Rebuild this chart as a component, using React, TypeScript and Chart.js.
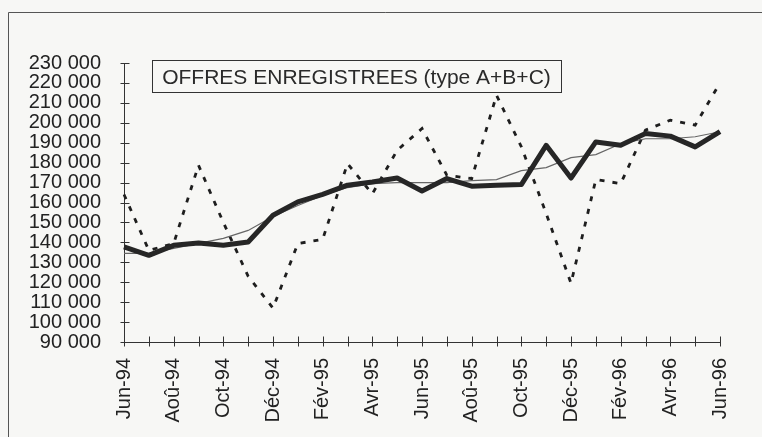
import React, { useEffect, useRef } from "react";
import { Chart, registerables } from "chart.js";

Chart.register(...registerables);

const months = [
  "Jun-94", "Jul-94", "Aoû-94", "Sep-94", "Oct-94", "Nov-94", "Déc-94",
  "Jan-95", "Fév-95", "Mar-95", "Avr-95", "Mai-95", "Jun-95", "Jul-95",
  "Aoû-95", "Sep-95", "Oct-95", "Nov-95", "Déc-95", "Jan-96", "Fév-96",
  "Mar-96", "Avr-96", "Mai-96", "Jun-96",
];

const thickSeries = [
  137700, 133500, 138500, 139700, 138500, 140200, 153600, 160300, 164100,
  168700, 170300, 172300, 165800, 172000, 168200, 168700, 169000, 188700,
  172300, 190400, 188700, 194600, 193300, 187900, 195600,
];

const dashedSeries = [
  164000, 136000, 139400, 178700, 150000, 123000, 107000, 139400, 141500,
  179500, 164300, 186200, 197100, 173700, 172000, 213800, 188000, 154500,
  119500, 171500, 169500, 196300, 201300, 198800, 220000,
];

const trendSeries = [
  134500, 134500, 137000, 139500, 142000, 146000, 153000, 158500, 163500,
  167500, 169500, 170000, 170000, 170000, 171000, 171500, 176000, 177500,
  182500, 184000, 189500, 192000, 192000, 193000, 195500,
];

const titleText = "OFFRES ENREGISTREES (type A+B+C)";
const yMin = 90000;
const yMax = 230000;
const yStep = 10000;

const FONT = "'Liberation Sans', Arial, Helvetica, sans-serif";
const BG = "#f7f7f5";

const decoPlugin = {
  id: "deco",
  beforeDraw(chart: any) {
    const { ctx, width, height } = chart;
    ctx.save();
    ctx.fillStyle = BG;
    ctx.fillRect(0, 0, width, height);
    ctx.strokeStyle = "#555";
    ctx.lineWidth = 1;
    ctx.beginPath();
    ctx.moveTo(0.5, height);
    ctx.lineTo(0.5, 0.5);
    ctx.lineTo(width, 0.5);
    ctx.stroke();
    ctx.restore();
  },
  afterDraw(chart: any) {
    const { ctx, chartArea } = chart;
    const xs = chart.scales.x;
    const ys = chart.scales.y;
    ctx.save();
    ctx.strokeStyle = "#333";
    ctx.lineWidth = 1;
    ctx.beginPath();
    const ax = Math.round(ys.left + ys.width) + 0.5;
    ys.ticks.forEach((_t: any, i: number) => {
      const py = Math.round(ys.getPixelForTick(i)) + 0.5;
      ctx.moveTo(ax - 4, py);
      ctx.lineTo(ax + 5, py);
    });
    const ay = Math.round(xs.top) + 0.5;
    xs.ticks.forEach((_t: any, i: number) => {
      const px = Math.round(xs.getPixelForTick(i)) + 0.5;
      ctx.moveTo(px, ay - 6);
      ctx.lineTo(px, ay + 4);
    });
    ctx.stroke();

    // title box
    const bx = chartArea.left + 28;
    const by = chartArea.top - 3;
    const bw = 409;
    const bh = 32;
    ctx.fillStyle = BG;
    ctx.fillRect(bx, by, bw, bh);
    ctx.strokeStyle = "#333";
    ctx.strokeRect(Math.round(bx) + 0.5, Math.round(by) + 0.5, bw, bh);
    ctx.fillStyle = "#2a2a2a";
    ctx.font = `21px ${FONT}`;
    ctx.textAlign = "center";
    ctx.textBaseline = "alphabetic";
    ctx.fillText(titleText, bx + bw / 2, by + 24);
    ctx.restore();
  },
};

export default function App() {
  const canvasRef = useRef<HTMLCanvasElement | null>(null);

  useEffect(() => {
    if (!canvasRef.current) return;
    const chart = new Chart(canvasRef.current, {
      type: "line",
      data: {
        labels: months,
        datasets: [
          {
            label: "Série CVS",
            data: thickSeries,
            borderColor: "#262626",
            borderWidth: 5,
            pointRadius: 0,
            tension: 0,
            borderJoinStyle: "round",
          },
          {
            label: "Tendance",
            data: trendSeries,
            borderColor: "#666",
            borderWidth: 1.2,
            pointRadius: 0,
            tension: 0,
          },
          {
            label: "Série brute",
            data: dashedSeries,
            borderColor: "#1e1e1e",
            borderWidth: 2.8,
            borderDash: [5, 8],
            pointRadius: 0,
            tension: 0,
          },
        ],
      },
      options: {
        animation: false,
        responsive: true,
        maintainAspectRatio: false,
        layout: { padding: { top: 51, right: 42, left: 0, bottom: 0 } },
        plugins: {
          legend: { display: false },
          tooltip: { enabled: false },
          title: { display: false },
        },
        scales: {
          x: {
            type: "category",
            offset: false,
            grid: { display: false, offset: false },
            border: { display: true, color: "#333", width: 1 },
            ticks: {
              autoSkip: false,
              maxRotation: 90,
              minRotation: 90,
              padding: 8,
              color: "#222",
              font: { family: FONT, size: 20 },
              callback: (_v: any, i: number) => (i % 2 === 0 ? months[i] : ""),
            },
            afterFit: (s: any) => {
              s.height = 95;
            },
          },
          y: {
            min: yMin,
            max: yMax,
            grid: { display: false },
            border: { display: true, color: "#333", width: 1 },
            ticks: {
              stepSize: yStep,
              autoSkip: false,
              padding: 15,
              color: "#222",
              font: { family: FONT, size: 20 },
              callback: (v: any) =>
                Number(v).toLocaleString("en-US").replace(/,/g, " "),
            },
            afterFit: (s: any) => {
              s.width = 116;
            },
          },
        },
      },
      plugins: [decoPlugin],
    });
    return () => chart.destroy();
  }, []);

  return (
    <div style={{ position: "fixed", inset: 0, background: BG }}>
      <div
        style={{
          position: "absolute",
          left: 8,
          top: 12,
          width: 754,
          height: 425,
        }}
      >
        <canvas ref={canvasRef} />
      </div>
    </div>
  );
}
